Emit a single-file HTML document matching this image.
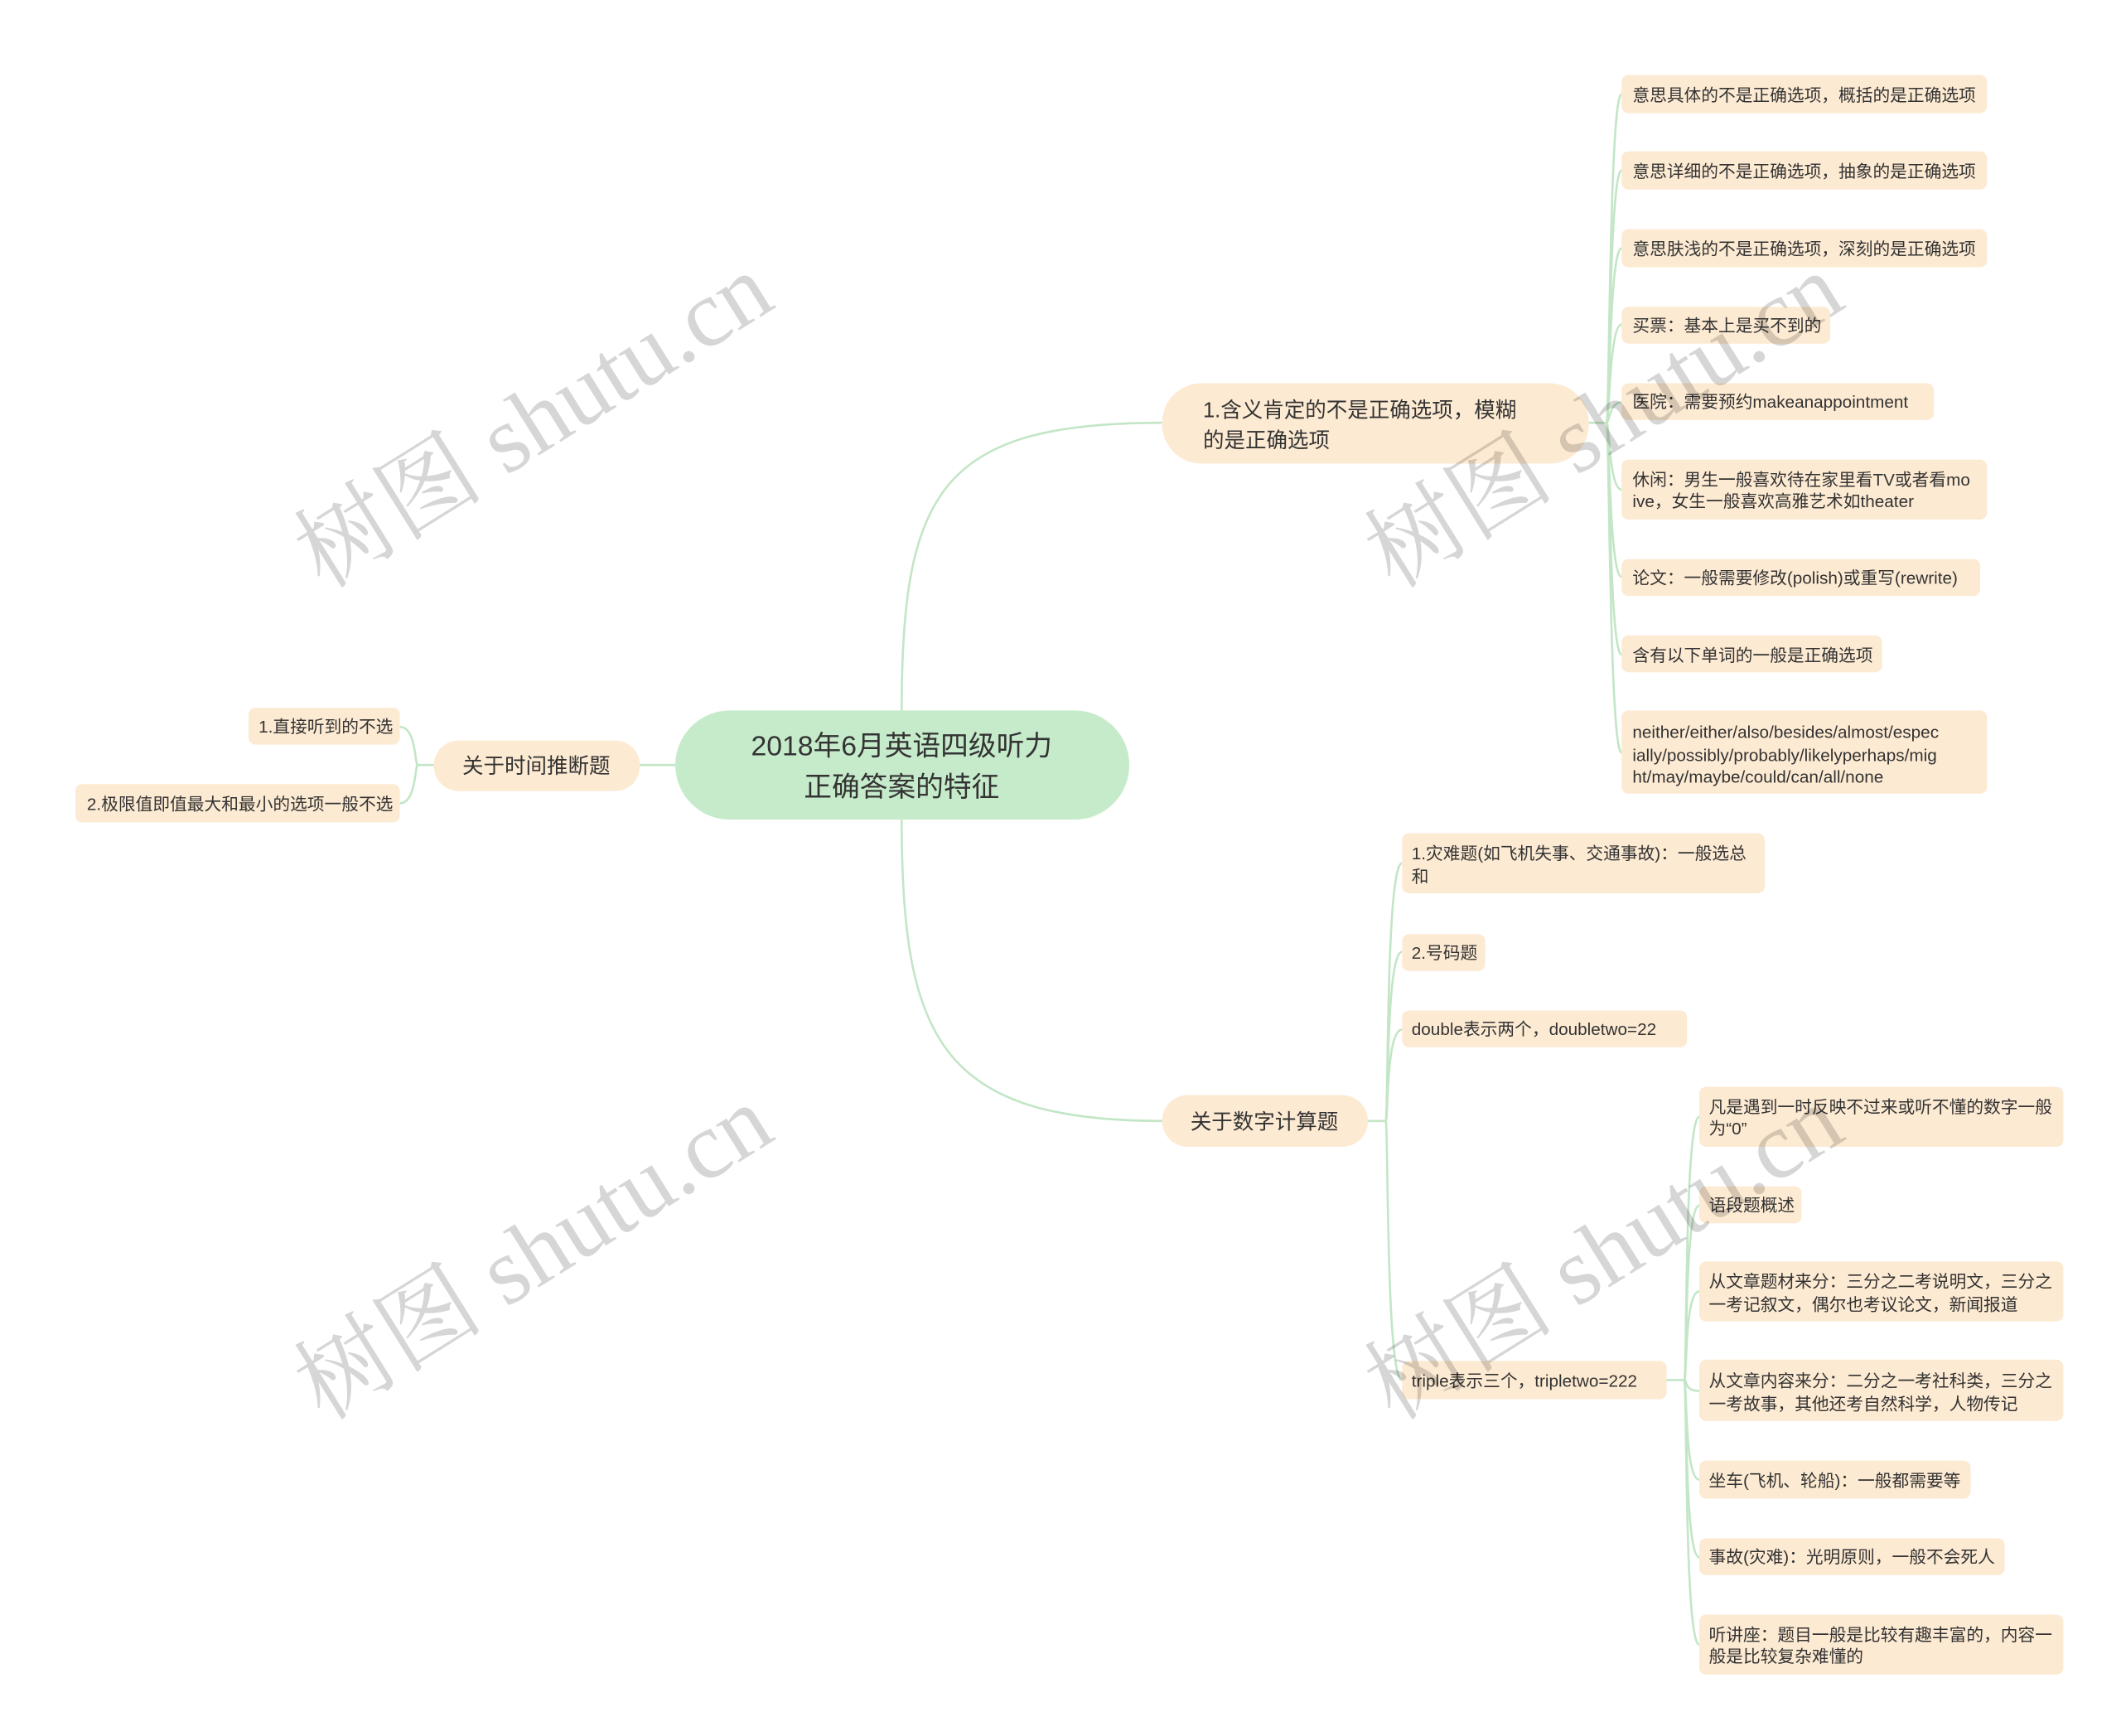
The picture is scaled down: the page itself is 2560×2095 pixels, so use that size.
<!DOCTYPE html>
<html><head><meta charset="utf-8"><style>
html,body{margin:0;padding:0;background:#fff;width:2560px;height:2095px;overflow:hidden}
svg{display:block}
text{font-family:"Liberation Sans","Noto Sans CJK SC",sans-serif;fill:#333}
.l{font-size:12.6px}
.wm{font-family:"Liberation Serif","Noto Serif CJK SC",serif;font-size:70px;fill:#000;fill-opacity:0.16}
</style></head><body>
<svg width="2560" height="2095" viewBox="0 0 1555 1273" xmlns="http://www.w3.org/2000/svg">
<g fill="none" stroke="#c3e6c6" stroke-width="1.6">
<path d="M661,521 C661,360 690,310 852,310"/>
<path d="M661,601 C661,762 690,822 852,822"/>
<path d="M495,561 L469,561"/>
<path d="M1165,310 L1178,310"/>
<path d="M1178,310 C1180,310 1180,69 1189,69"/>
<path d="M1178,310 C1180,310 1180,125 1189,125"/>
<path d="M1178,310 C1180,310 1180,182 1189,182"/>
<path d="M1178,310 C1180,310 1180,238 1189,238"/>
<path d="M1178,310 C1180,310 1180,295 1189,295"/>
<path d="M1178,310 C1180,310 1180,359 1189,359"/>
<path d="M1178,310 C1180,310 1180,423 1189,423"/>
<path d="M1178,310 C1180,310 1180,480 1189,480"/>
<path d="M1178,310 C1180,310 1180,552 1189,552"/>
<path d="M318,561 L306,561"/>
<path d="M306,561 C304,561 305,533 293,533"/>
<path d="M306,561 C304,561 305,589 293,589"/>
<path d="M1003,822 L1016,822"/>
<path d="M1016,822 C1018,822 1016,633 1028,633"/>
<path d="M1016,822 C1018,822 1016,698 1028,698"/>
<path d="M1016,822 C1018,822 1016,755 1028,755"/>
<path d="M1016,822 C1018,822 1016,1012 1028,1012"/>
<path d="M1222,1012 L1235,1012"/>
<path d="M1235,1012 C1237,1012 1235,819 1246,819"/>
<path d="M1235,1012 C1237,1012 1235,884 1246,884"/>
<path d="M1235,1012 C1237,1012 1235,947 1246,947"/>
<path d="M1235,1012 C1237,1012 1235,1020 1246,1020"/>
<path d="M1235,1012 C1237,1012 1235,1085 1246,1085"/>
<path d="M1235,1012 C1237,1012 1235,1142 1246,1142"/>
<path d="M1235,1012 C1237,1012 1235,1206 1246,1206"/>
</g>
<rect x="495" y="521" width="333" height="80" rx="40" fill="#c6ebca"/>
<text x="661" y="554" font-size="20.5" text-anchor="middle">2018年6月英语四级听力</text>
<text x="661" y="584" font-size="20.5" text-anchor="middle">正确答案的特征</text>
<rect x="852" y="281" width="313" height="59" rx="29" fill="#fdead2"/>
<text x="882" y="306" font-size="15.5">1.含义肯定的不是正确选项，模糊</text>
<text x="882" y="328" font-size="15.5">的是正确选项</text>
<rect x="318" y="543" width="151" height="37" rx="18" fill="#fdead2"/>
<text x="393" y="567" font-size="15.5" text-anchor="middle">关于时间推断题</text>
<rect x="852" y="803" width="151" height="38" rx="19" fill="#fdead2"/>
<text x="927" y="828" font-size="15.5" text-anchor="middle">关于数字计算题</text>
<g fill="#fdead2">
<rect x="1189" y="55" width="268" height="28" rx="5"/>
<rect x="1189" y="111" width="268" height="28" rx="5"/>
<rect x="1189" y="168" width="268" height="28" rx="5"/>
<rect x="1189" y="225" width="153" height="27" rx="5"/>
<rect x="1189" y="281" width="229" height="27" rx="5"/>
<rect x="1189" y="337" width="268" height="44" rx="5"/>
<rect x="1189" y="410" width="263" height="27" rx="5"/>
<rect x="1189" y="466" width="191" height="27" rx="5"/>
<rect x="1189" y="521" width="268" height="61" rx="5"/>
<rect x="182" y="519" width="111" height="27" rx="5"/>
<rect x="55" y="575" width="238" height="28" rx="5"/>
<rect x="1028" y="611" width="266" height="44" rx="5"/>
<rect x="1028" y="685" width="61" height="27" rx="5"/>
<rect x="1028" y="741" width="209" height="27" rx="5"/>
<rect x="1028" y="998" width="194" height="28" rx="5"/>
<rect x="1246" y="797" width="267" height="44" rx="5"/>
<rect x="1246" y="870" width="75" height="27" rx="5"/>
<rect x="1246" y="925" width="267" height="44" rx="5"/>
<rect x="1246" y="997" width="267" height="45" rx="5"/>
<rect x="1246" y="1071" width="199" height="28" rx="5"/>
<rect x="1246" y="1128" width="224" height="27" rx="5"/>
<rect x="1246" y="1184" width="267" height="44" rx="5"/>
</g>
<g class="l">
<text class="l" x="1197" y="74">意思具体的不是正确选项，概括的是正确选项</text>
<text class="l" x="1197" y="130">意思详细的不是正确选项，抽象的是正确选项</text>
<text class="l" x="1197" y="187">意思肤浅的不是正确选项，深刻的是正确选项</text>
<text class="l" x="1197" y="243">买票：基本上是买不到的</text>
<text class="l" x="1197" y="299">医院：需要预约makeanappointment</text>
<text class="l" x="1197" y="356">休闲：男生一般喜欢待在家里看TV或者看mo</text>
<text class="l" x="1197" y="372">ive，女生一般喜欢高雅艺术如theater</text>
<text class="l" x="1197" y="428">论文：一般需要修改(polish)或重写(rewrite)</text>
<text class="l" x="1197" y="485">含有以下单词的一般是正确选项</text>
<text class="l" x="1197" y="541">neither/either/also/besides/almost/espec</text>
<text class="l" x="1197" y="558">ially/possibly/probably/likelyperhaps/mig</text>
<text class="l" x="1197" y="574">ht/may/maybe/could/can/all/none</text>
<text class="l" x="288" y="537" text-anchor="end">1.直接听到的不选</text>
<text class="l" x="288" y="594" text-anchor="end">2.极限值即值最大和最小的选项一般不选</text>
<text class="l" x="1035" y="630">1.灾难题(如飞机失事、交通事故)：一般选总</text>
<text class="l" x="1035" y="647">和</text>
<text class="l" x="1035" y="703">2.号码题</text>
<text class="l" x="1035" y="759">double表示两个，doubletwo=22</text>
<text class="l" x="1035" y="1017">triple表示三个，tripletwo=222</text>
<text class="l" x="1253" y="816">凡是遇到一时反映不过来或听不懂的数字一般</text>
<text class="l" x="1253" y="832">为“0”</text>
<text class="l" x="1253" y="888">语段题概述</text>
<text class="l" x="1253" y="944">从文章题材来分：三分之二考说明文，三分之</text>
<text class="l" x="1253" y="961">一考记叙文，偶尔也考议论文，新闻报道</text>
<text class="l" x="1253" y="1017">从文章内容来分：二分之一考社科类，三分之</text>
<text class="l" x="1253" y="1034">一考故事，其他还考自然科学，人物传记</text>
<text class="l" x="1253" y="1090">坐车(飞机、轮船)：一般都需要等</text>
<text class="l" x="1253" y="1146">事故(灾难)：光明原则，一般不会死人</text>
<text class="l" x="1253" y="1203">听讲座：题目一般是比较有趣丰富的，内容一</text>
<text class="l" x="1253" y="1219">般是比较复杂难懂的</text>
</g>
<text class="wm" transform="translate(395,315) rotate(-32)" text-anchor="middle" dominant-baseline="middle">树图 shutu.cn</text>
<text class="wm" transform="translate(1180,315) rotate(-32)" text-anchor="middle" dominant-baseline="middle">树图 shutu.cn</text>
<text class="wm" transform="translate(395,925) rotate(-32)" text-anchor="middle" dominant-baseline="middle">树图 shutu.cn</text>
<text class="wm" transform="translate(1180,925) rotate(-32)" text-anchor="middle" dominant-baseline="middle">树图 shutu.cn</text>
</svg>
</body></html>
